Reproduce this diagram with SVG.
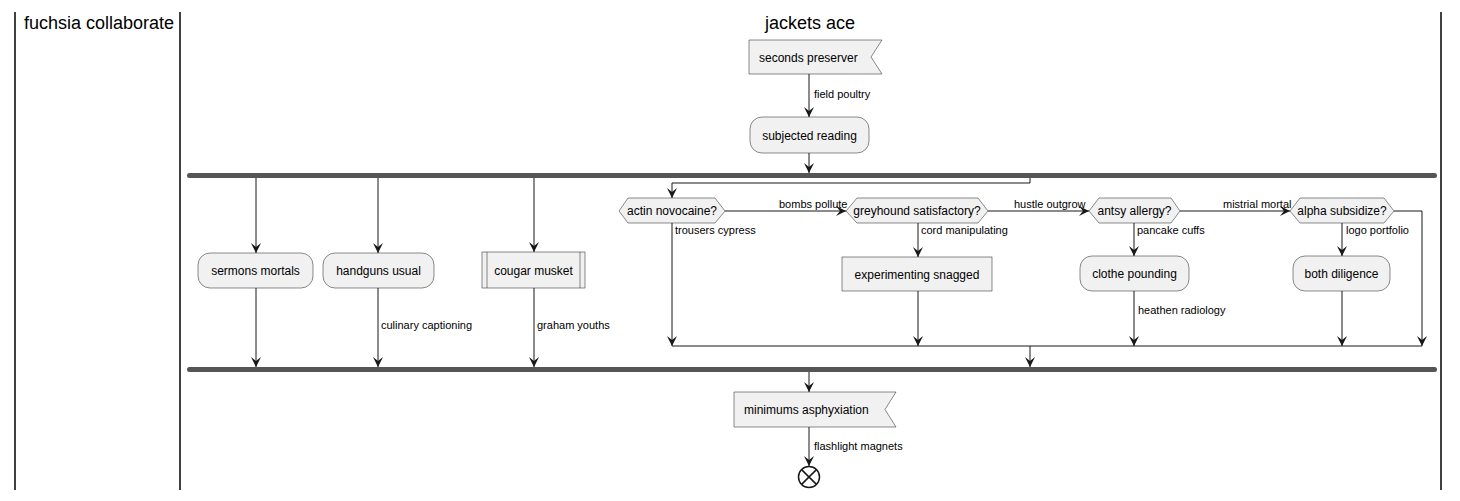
<svg xmlns="http://www.w3.org/2000/svg" width="1460" height="501" viewBox="0 0 1460 501">
<defs>
<style>
.lane{stroke:#000;stroke-width:1.5;fill:none}
.title{font-family:"Liberation Sans",Arial,sans-serif;font-size:18px;fill:#000}
.node{fill:#F1F1F1;stroke:#181818;stroke-width:0.5}
.bar{fill:#555555;stroke:none}
.t{font-family:"Liberation Sans",Arial,sans-serif;font-size:12px;fill:#000}
.lbl{font-family:"Liberation Sans",Arial,sans-serif;font-size:11px;fill:#000}
.edge{stroke:#181818;stroke-width:1;fill:none}
.arr{stroke:#181818;stroke-width:1;fill:none;marker-end:url(#ah)}
</style>
<marker id="ah" markerWidth="11" markerHeight="10" refX="10" refY="5" orient="auto" markerUnits="userSpaceOnUse" viewBox="0 0 11 10">
<path d="M0,0 L10,5 L0,10 L4,5 Z" fill="#181818"/>
</marker>
</defs>
<g id="lanes">
<line class="lane" x1="15" y1="12" x2="15" y2="490"/>
<line class="lane" x1="180" y1="12" x2="180" y2="490"/>
<line class="lane" x1="1441" y1="12" x2="1441" y2="490"/>
<text class="title" x="24" y="29">fuchsia collaborate</text>
<text class="title" x="810" y="29" text-anchor="middle">jackets ace</text>
</g>
<g id="connectors">
<line class="arr" x1="809" y1="74" x2="809" y2="117"/>
<text class="lbl" x="814" y="98">field poultry</text>
<line class="arr" x1="809" y1="153" x2="809" y2="173"/>
<line class="arr" x1="256" y1="178" x2="256" y2="253"/>
<line class="arr" x1="378" y1="178" x2="378" y2="253"/>
<line class="arr" x1="534" y1="178" x2="534" y2="252"/>
<polyline class="arr" points="1030,178 1030,183 672,183 672,198"/>
<line class="arr" x1="256" y1="288" x2="256" y2="367"/>
<line class="arr" x1="378" y1="288" x2="378" y2="367"/>
<text class="lbl" x="381" y="329">culinary captioning</text>
<line class="arr" x1="534" y1="288" x2="534" y2="367"/>
<text class="lbl" x="537" y="329">graham youths</text>
<line class="arr" x1="725" y1="211" x2="846" y2="211"/>
<text class="lbl" x="779" y="208">bombs pollute</text>
<line class="arr" x1="988" y1="211" x2="1089" y2="211"/>
<text class="lbl" x="1014" y="208">hustle outgrow</text>
<line class="arr" x1="1180" y1="211" x2="1290" y2="211"/>
<text class="lbl" x="1223" y="208">mistrial mortal</text>
<polyline class="arr" points="1394,211 1422,211 1422,346"/>
<line class="arr" x1="672" y1="223" x2="672" y2="346"/>
<text class="lbl" x="675" y="234">trousers cypress</text>
<line class="arr" x1="918" y1="223" x2="918" y2="257"/>
<text class="lbl" x="921" y="234">cord manipulating</text>
<line class="arr" x1="918" y1="291" x2="918" y2="346"/>
<line class="arr" x1="1134" y1="223" x2="1134" y2="256"/>
<text class="lbl" x="1137" y="234">pancake cuffs</text>
<line class="arr" x1="1134" y1="291" x2="1134" y2="346"/>
<text class="lbl" x="1138" y="314">heathen radiology</text>
<line class="arr" x1="1342" y1="223" x2="1342" y2="256"/>
<text class="lbl" x="1346" y="234">logo portfolio</text>
<line class="arr" x1="1342" y1="291" x2="1342" y2="346"/>
<line class="edge" x1="672" y1="346" x2="1422" y2="346"/>
<line class="arr" x1="1030" y1="346" x2="1030" y2="367"/>
<line class="arr" x1="809" y1="372" x2="809" y2="392"/>
<line class="arr" x1="809" y1="427" x2="809" y2="466"/>
<text class="lbl" x="814" y="450">flashlight magnets</text>
</g>
<g id="n-seconds-preserver">
<polygon class="node" points="749,40 882,40 871,57 882,74 749,74"/>
<text class="t" x="759" y="61.5">seconds preserver</text>
</g>
<g id="n-subjected-reading">
<rect class="node" x="750" y="117" width="119" height="36" rx="12"/>
<text class="t" x="809.5" y="139.5" text-anchor="middle">subjected reading</text>
</g>
<g id="fork">
<rect class="bar" x="187" y="173" width="1250" height="5" rx="2.5"/>
</g>
<g id="n-sermons-mortals">
<rect class="node" x="198" y="253" width="115" height="35" rx="12"/>
<text class="t" x="255.5" y="275" text-anchor="middle">sermons mortals</text>
</g>
<g id="n-handguns-usual">
<rect class="node" x="323" y="253" width="111" height="35" rx="12"/>
<text class="t" x="378.5" y="275" text-anchor="middle">handguns usual</text>
</g>
<g id="n-cougar-musket">
<rect class="node" x="482" y="252" width="103" height="36"/>
<line class="node" x1="487" y1="252" x2="487" y2="288"/>
<line class="node" x1="580" y1="252" x2="580" y2="288"/>
<text class="t" x="533.5" y="274.5" text-anchor="middle">cougar musket</text>
</g>
<g id="n-actin-novocaine">
<polygon class="node" points="619,211 628,198 715,198 725,211 715,223 628,223"/>
<text class="t" x="672" y="215" text-anchor="middle">actin novocaine?</text>
</g>
<g id="n-greyhound-satisfactory">
<polygon class="node" points="846,211 857,198 978,198 988,211 978,223 857,223"/>
<text class="t" x="917" y="215" text-anchor="middle">greyhound satisfactory?</text>
</g>
<g id="n-experimenting-snagged">
<rect class="node" x="842" y="257" width="150" height="34"/>
<text class="t" x="917" y="278.5" text-anchor="middle">experimenting snagged</text>
</g>
<g id="n-antsy-allergy">
<polygon class="node" points="1089,211 1099,198 1171,198 1180,211 1171,223 1099,223"/>
<text class="t" x="1134.5" y="215" text-anchor="middle">antsy allergy?</text>
</g>
<g id="n-clothe-pounding">
<rect class="node" x="1080" y="256" width="109" height="35" rx="12"/>
<text class="t" x="1134.5" y="278" text-anchor="middle">clothe pounding</text>
</g>
<g id="n-alpha-subsidize">
<polygon class="node" points="1290,211 1300,198 1384,198 1394,211 1384,223 1300,223"/>
<text class="t" x="1342" y="215" text-anchor="middle">alpha subsidize?</text>
</g>
<g id="n-both-diligence">
<rect class="node" x="1293" y="256" width="97" height="35" rx="12"/>
<text class="t" x="1341.5" y="278" text-anchor="middle">both diligence</text>
</g>
<g id="join">
<rect class="bar" x="187" y="367" width="1250" height="5" rx="2.5"/>
</g>
<g id="n-minimums-asphyxiation">
<polygon class="node" points="734,392 896,392 885,409.5 896,427 734,427"/>
<text class="t" x="744" y="414">minimums asphyxiation</text>
</g>
<g id="n-end">
<circle cx="809" cy="477" r="10.5" fill="none" stroke="#181818" stroke-width="1.5"/>
<line x1="801.6" y1="469.6" x2="816.4" y2="484.4" stroke="#181818" stroke-width="1.5"/>
<line x1="816.4" y1="469.6" x2="801.6" y2="484.4" stroke="#181818" stroke-width="1.5"/>
</g>
</svg>
